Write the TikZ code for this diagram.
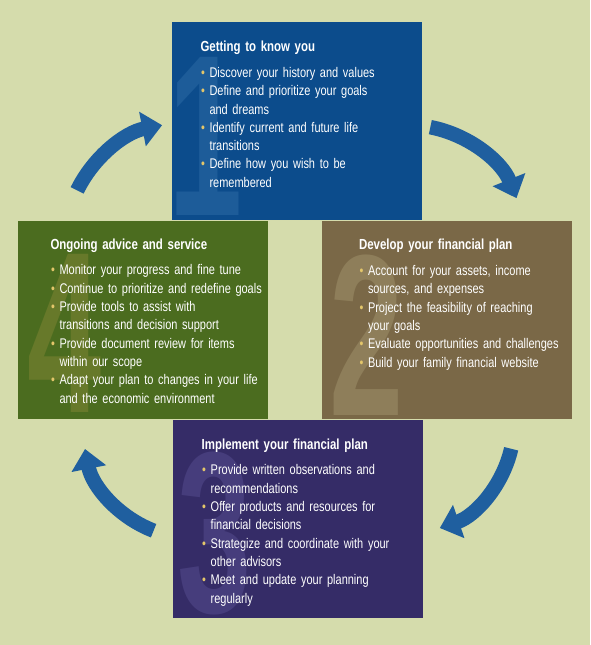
\documentclass[tikz,border=0pt]{standalone}
\usepackage{fontspec}
\setmainfont{Liberation Sans}[FakeStretch=0.785]
\newfontfamily\numfont{Liberation Sans}[FakeStretch=0.58]
\usetikzlibrary{arrows.meta}

\definecolor{bgcol}{HTML}{D5DCAC}
\definecolor{knowblue}{HTML}{0C4C8C}
\definecolor{devbrown}{HTML}{7A6847}
\definecolor{implpurple}{HTML}{352C67}
\definecolor{ongoinggreen}{HTML}{4B6C1F}
\definecolor{arrowblue}{HTML}{1F5F9F}
\definecolor{bulletcol}{HTML}{E3C66A}
\definecolor{numblue}{HTML}{1D5C99}
\definecolor{numbrown}{HTML}{8E7E5A}
\definecolor{numpurple}{HTML}{463D7C}
\definecolor{numgreen}{HTML}{67792A}

\newcommand{\stagebullet}{\makebox[9pt][l]{\hspace{0.5pt}\textcolor{bulletcol}{\textbullet}}}
\newcommand{\stageindent}{\hspace*{9pt}}
\newcommand{\stagetitle}[1]{\textbf{\fontsize{14.6}{18.3}\selectfont #1}\\[7.5pt]}

\begin{document}
\begin{tikzpicture}[x=1pt, y=-1pt,
  stagebox/.style={rectangle, inner sep=0, minimum width=250pt, minimum height=198pt},
  stagetext/.style={anchor=base west, inner sep=0, text width=240pt, align=left, text=white, font=\fontsize{14}{18.3}\selectfont},
  bignum/.style={anchor=base west, inner sep=0, font=\numfont\bfseries\fontsize{230}{230}\selectfont},
  cyclearrow/.style={draw=arrowblue, line width=14.5pt, -{Triangle[length=20pt,width=34pt]}}]

% Background
\useasboundingbox[fill=bgcol] (0,0) rectangle (590,645);

% Stage boxes
\node[stagebox, fill=knowblue] (know) at (296.5,120.5) {};
\node[stagebox, fill=devbrown] (develop) at (447,320) {};
\node[stagebox, fill=implpurple] (implement) at (298,519) {};
\node[stagebox, fill=ongoinggreen] (ongoing) at (142.5,320) {};

% Big numbers
\node[bignum, text=numblue] (num1) at ([shift={(-3,-4)}]know.south west) {1};
\node[bignum, text=numbrown] (num2) at ([shift={(7,-4)}]develop.south west) {2};
\node[bignum, text=numpurple] (num3) at ([shift={(4,-6)}]implement.south west) {3};
\node[bignum, text=numgreen] (num4) at ([shift={(10,-7)}]ongoing.south west) {4};

% Texts
\node[stagetext] (know text) at ([shift={(29,30.3)}]know.north west) {%
  \stagetitle{Getting to know you}
  \stagebullet Discover your history and values\\
  \stagebullet Define and prioritize your goals\\
  \stageindent and dreams\\
  \stagebullet Identify current and future life\\
  \stageindent transitions\\
  \stagebullet Define how you wish to be\\
  \stageindent remembered};
\node[stagetext] (develop text) at ([shift={(37,29)}]develop.north west) {%
  \stagetitle{Develop your financial plan}
  \stagebullet Account for your assets, income\\
  \stageindent sources, and expenses\\
  \stagebullet Project the feasibility of reaching\\
  \stageindent your goals\\
  \stagebullet Evaluate opportunities and challenges\\
  \stagebullet Build your family financial website};
\node[stagetext] (implement text) at ([shift={(28.7,29.3)}]implement.north west) {%
  \stagetitle{Implement your financial plan}
  \stagebullet Provide written observations and\\
  \stageindent recommendations\\
  \stagebullet Offer products and resources for\\
  \stageindent financial decisions\\
  \stagebullet Strategize and coordinate with your\\
  \stageindent other advisors\\
  \stagebullet Meet and update your planning\\
  \stageindent regularly};
\node[stagetext] (ongoing text) at ([shift={(33,28.3)}]ongoing.north west) {%
  \stagetitle{Ongoing advice and service}
  \stagebullet Monitor your progress and fine tune\\
  \stagebullet Continue to prioritize and redefine goals\\
  \stagebullet Provide tools to assist with\\
  \stageindent transitions and decision support\\
  \stagebullet Provide document review for items\\
  \stageindent within our scope\\
  \stagebullet Adapt your plan to changes in your life\\
  \stageindent and the economic environment};

% Cycle arrows
\coordinate (c1) at (185,243);
\coordinate (c2) at (408,242);
\coordinate (c3) at (404,424);
\coordinate (c4) at (193,428);
\draw[cyclearrow] ([shift={(-154:120)}]c1) arc[start angle=-154, end angle=-101, radius=120];
\draw[cyclearrow] ([shift={(-79:117)}]c2) arc[start angle=-79, end angle=-22, radius=117];
\draw[cyclearrow] ([shift={(13:110)}]c3) arc[start angle=13, end angle=71, radius=110];
\draw[cyclearrow] ([shift={(111:110)}]c4) arc[start angle=111, end angle=169, radius=110];
\end{tikzpicture}
\end{document}
